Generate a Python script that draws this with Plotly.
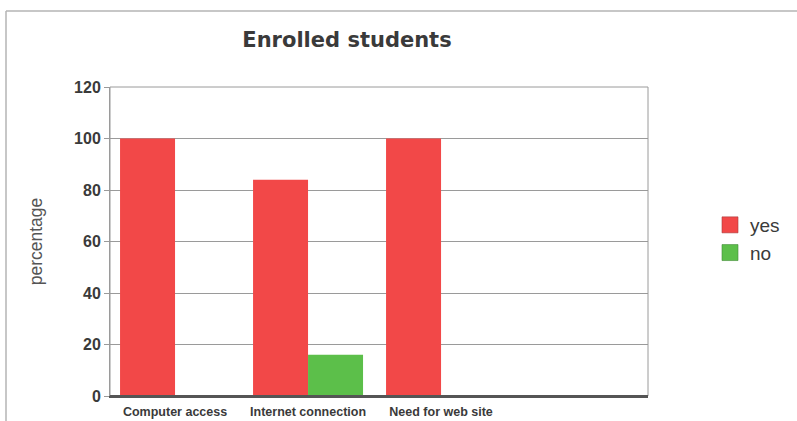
import plotly.graph_objects as go

# Survey answers of enrolled students (percent)
categories = ["Computer access", "Internet connection", "Need for web site"]
yes_values = [100, 84, 100]
no_values = [0, 16, 0]
y_ticks = [0, 20, 40, 60, 80, 100, 120]

RED = "#F24848"
GREEN = "#5CBF4A"
TEXT = "#3a3a3a"

PLOT_W, PLOT_H = 538, 309  # plot area size in px

fig = go.Figure()
fig.add_trace(go.Bar(x=categories, y=yes_values, name="yes", marker=dict(color=RED, line=dict(width=0)),
                     showlegend=False))
fig.add_trace(go.Bar(x=categories, y=no_values, name="no", marker=dict(color=GREEN, line=dict(width=0)),
                     showlegend=False))

# legend entries with larger square swatches
for name, col, edge in [("yes", RED, "#a83a3a"), ("no", GREEN, "#3f8a35")]:
    fig.add_trace(go.Scatter(x=[None], y=[None], mode="markers", name=name,
                             marker=dict(symbol="square", size=16, color=col, line=dict(color=edge, width=0.6))))

fig.update_layout(
    width=797, height=421,
    margin=dict(l=110, r=149, t=87, b=25, autoexpand=False),
    paper_bgcolor="white", plot_bgcolor="white",
    barmode="group", bargap=0.173, bargroupgap=0,
    title=dict(text="<b>Enrolled students</b>", x=347 / 797, xanchor="center", y=1 - 40 / 421, yanchor="middle",
               font=dict(family="DejaVu Sans", size=21, color=TEXT)),
    legend=dict(x=(710 - 110) / PLOT_W, xanchor="left", y=(396 - 206) / PLOT_H, yanchor="top",
                font=dict(family="Liberation Sans, Arial", size=19, color=TEXT),
                itemwidth=30, tracegroupgap=0, bgcolor="rgba(0,0,0,0)"),
    font=dict(family="Liberation Sans, Arial", color=TEXT),
)

fig.update_xaxes(
    type="category", range=[-0.489, 3.556], showgrid=False, automargin=False,
    showline=True, linecolor="#555555", linewidth=2, mirror=False,
    ticks="", ticklabelstandoff=3,
    tickfont=dict(family="Liberation Sans, Arial", size=12.5, color=TEXT),
    tickprefix="<b>", ticksuffix="</b>",
)
fig.update_yaxes(
    range=[0, 120], tickvals=y_ticks, ticktext=[f"<b>{v}</b>" for v in y_ticks], automargin=False,
    showgrid=True, gridcolor="#9a9a9a", gridwidth=1,
    showline=True, linecolor="#9a9a9a", linewidth=1,
    ticks="outside", ticklen=5, tickcolor="#9a9a9a",
    tickfont=dict(family="Liberation Sans, Arial", size=16, color=TEXT),
    title=dict(text="percentage", font=dict(family="Liberation Sans, Arial", size=17.5, color="#555555"), standoff=26),
    zeroline=False,
)

# plot frame (top and right edges) and the outer chart border
fig.add_shape(type="rect", xref="x domain", yref="y domain", x0=0, x1=1, y0=0, y1=1,
              line=dict(color="#9a9a9a", width=1), layer="above")
fig.add_shape(type="line", xref="x domain", yref="y domain", x0=0, x1=1, y0=0, y1=0,
              line=dict(color="#555555", width=2), layer="above")
fig.add_shape(type="line", xref="paper", yref="paper", x0=-104 / PLOT_W, x1=1 + 149 / PLOT_W,
              y0=1 + 76 / PLOT_H, y1=1 + 76 / PLOT_H, line=dict(color="#b5b5b5", width=1.5))
fig.add_shape(type="line", xref="paper", yref="paper", x0=-104 / PLOT_W, x1=-104 / PLOT_W,
              y0=1 + 76 / PLOT_H, y1=-25 / PLOT_H, line=dict(color="#b5b5b5", width=1.5))

fig.write_html("out.html")
